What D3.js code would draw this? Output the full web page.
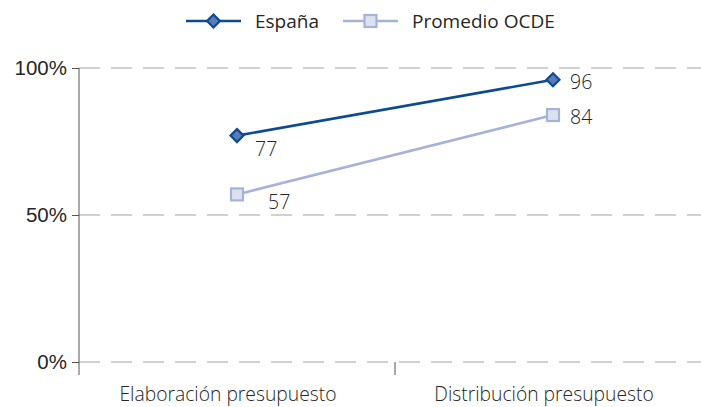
<!DOCTYPE html>
<html>
<head>
<meta charset="utf-8">
<script src="https://cdn.jsdelivr.net/npm/d3@7"></script>
<style>
  html, body { margin: 0; padding: 0; background: #fff; }
  svg { display: block; font-family: "Open Sans", "DejaVu Sans", sans-serif; }
</style>
</head>
<body>
<svg id="chart" width="701" height="407"></svg>
<script>
// Chart data
const categories = ["Elaboración presupuesto", "Distribución presupuesto"];
const seriesNames = ["España", "Promedio OCDE"];
const espana = [77, 96];
const ocde = [57, 84];
const yTicks = [0, 50, 100];

const svg = d3.select("#chart");
const margin = { left: 79, right: -10 };
const W = 701;

const x = d3.scaleBand().domain(categories).range([margin.left, W - margin.right]);
const y = d3.scaleLinear().domain([0, 100]).range([362, 68]);

const textColor = "#262626";

// Dashed gridlines
svg.append("g")
  .selectAll("line")
  .data(yTicks)
  .join("line")
  .attr("x1", margin.left)
  .attr("x2", W)
  .attr("y1", d => y(d))
  .attr("y2", d => y(d))
  .attr("stroke", "#a3a3a3")
  .attr("stroke-width", 1.2)
  .attr("stroke-dasharray", "21,11");

// Y axis
const yAxis = svg.append("g")
  .attr("transform", `translate(${margin.left},0)`)
  .call(d3.axisLeft(y).tickValues(yTicks).tickFormat(d => d + "%").tickSize(7).tickPadding(5));
yAxis.select(".domain").attr("d", `M0,${y(100)}V${y(0) + 13}`).attr("stroke", "#555");
yAxis.selectAll(".tick line").attr("stroke", "#555");
yAxis.selectAll(".tick text")
  .attr("fill", textColor)
  .style("font-size", "20.5px")
  .style("font-weight", "300");

// X axis: category boundary ticks and labels
const xg = svg.append("g").attr("transform", `translate(0,${y(0)})`);
xg.selectAll("line.sep")
  .data(categories.slice(1))
  .join("line")
  .attr("class", "sep")
  .attr("x1", d => x(d))
  .attr("x2", d => x(d))
  .attr("y1", 0)
  .attr("y2", 13)
  .attr("stroke", "#555");
xg.selectAll("text")
  .data(categories)
  .join("text")
  .attr("x", d => x(d) + x.bandwidth() / 2 - 9)
  .attr("y", 39)
  .attr("text-anchor", "middle")
  .attr("fill", textColor)
  .style("font-size", "19.3px")
  .style("font-weight", "300")
  .text(d => d);

const cx = d => x(d) + x.bandwidth() / 2;

const series = [
  { name: seriesNames[0], values: espana, line: "#0c4b8e", fill: "#5b7ab8", stroke: "#0c4b8e", shape: "diamond" },
  { name: seriesNames[1], values: ocde, line: "#a7b2d7", fill: "#dce1f0", stroke: "#a7b2d7", shape: "square" }
];

function marker(g, s, px, py) {
  if (s.shape === "diamond") {
    g.append("path")
      .attr("d", `M${px},${py - 6.5}L${px + 6.5},${py}L${px},${py + 6.5}L${px - 6.5},${py}Z`)
      .attr("fill", s.fill).attr("stroke", s.stroke).attr("stroke-width", 2.2);
  } else {
    g.append("rect")
      .attr("x", px - 6).attr("y", py - 6).attr("width", 12).attr("height", 12)
      .attr("fill", s.fill).attr("stroke", s.stroke).attr("stroke-width", 2.2);
  }
}

const line = d3.line().x((d, i) => cx(categories[i])).y(d => y(d));

series.forEach(s => {
  const g = svg.append("g");
  g.append("path")
    .attr("d", line(s.values))
    .attr("fill", "none")
    .attr("stroke", s.line)
    .attr("stroke-width", 2.6);
  s.values.forEach((v, i) => marker(g, s, cx(categories[i]), y(v)));
});

// Value labels
const labelOffsets = [
  [[18, 20], [17, 9]],
  [[31, 15], [17, 9]]
];
series.forEach((s, si) => {
  s.values.forEach((v, i) => {
    svg.append("text")
      .attr("x", cx(categories[i]) + labelOffsets[si][i][0])
      .attr("y", y(v) + labelOffsets[si][i][1])
      .attr("fill", textColor)
      .style("font-size", "19.5px")
      .style("font-weight", "300")
      .text(v);
  });
});

// Legend
const legend = svg.append("g");
const legendItems = [
  { s: series[0], x0: 186, tx: 255 },
  { s: series[1], x0: 343, tx: 412 }
];
legendItems.forEach(it => {
  legend.append("line")
    .attr("x1", it.x0).attr("x2", it.x0 + 55)
    .attr("y1", 21).attr("y2", 21)
    .attr("stroke", it.s.line).attr("stroke-width", 2.6);
  marker(legend, it.s, it.x0 + 27.5, 21);
  legend.append("text")
    .attr("x", it.tx).attr("y", 28)
    .attr("fill", textColor)
    .style("font-size", "19px")
    .style("font-weight", "500")
    .text(it.s.name);
});
</script>
</body>
</html>
